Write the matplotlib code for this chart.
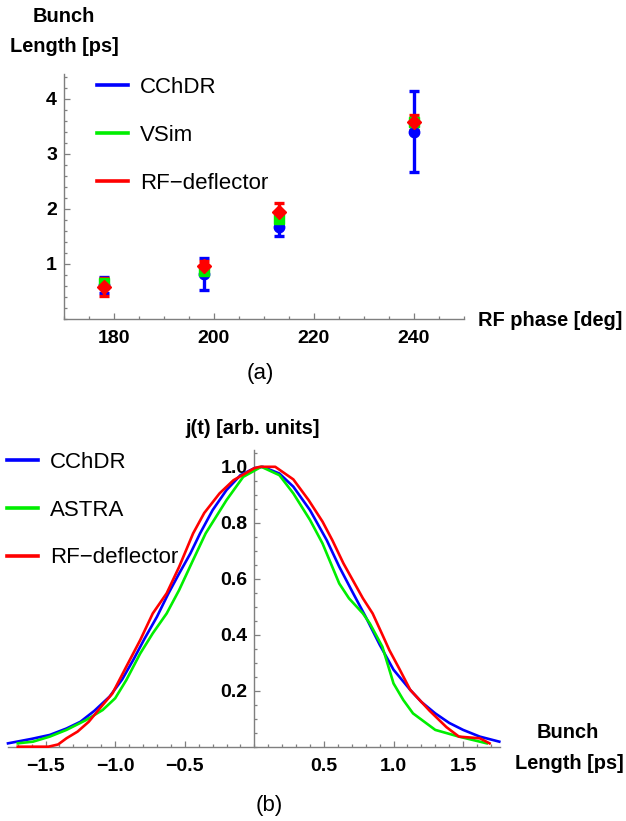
import matplotlib
matplotlib.use("Agg")
import matplotlib.pyplot as plt
from matplotlib.ticker import MultipleLocator, FixedLocator

plt.rcParams["font.family"] = ["Liberation Sans", "DejaVu Sans"]
plt.rcParams["axes.unicode_minus"] = True

W, H = 626, 821
BLUE, GREEN, RED = "#0000ff", "#00ee00", "#ff0000"
AXIS_GRAY = "#7f7f7f"

# (a) bunch length vs RF phase
phase = [178, 198, 213, 240]
cchdr_len = [0.62, 0.82, 1.68, 3.40]
cchdr_err = [0.15, 0.29, 0.18, 0.735]
vsim_len = [0.65, 0.87, 1.81, 3.58]
vsim_err = [0.08, 0.05, 0.05, 0.05]
rfd_len = [0.58, 0.97, 1.94, 3.57]
rfd_err = [0.17, 0.08, 0.17, 0.14]

# (b) longitudinal current profiles j(t)
cchdr_t = [-1.77, -1.6, -1.47, -1.35, -1.25, -1.15, -1.04, -0.95, -0.87, -0.79, -0.70, -0.62,
           -0.54, -0.46, -0.39, -0.30, -0.20, -0.10, 0.0, 0.06, 0.18, 0.28, 0.40, 0.52, 0.61,
           0.71, 0.80, 0.90, 1.00, 1.12, 1.20, 1.30, 1.40, 1.50, 1.62, 1.76]
cchdr_j = [0.012, 0.028, 0.042, 0.065, 0.089, 0.128, 0.179, 0.24, 0.31, 0.385, 0.464, 0.545,
           0.619, 0.69, 0.762, 0.845, 0.917, 0.97, 0.995, 1.0, 0.976, 0.929, 0.845, 0.738, 0.643,
           0.548, 0.464, 0.365, 0.275, 0.203, 0.16, 0.119, 0.085, 0.06, 0.036, 0.018]
astra_t = [-1.70, -1.59, -1.47, -1.35, -1.21, -1.09, -1.00, -0.92, -0.82, -0.73, -0.63, -0.54,
           -0.44, -0.35, -0.20, -0.08, 0.05, 0.18, 0.28, 0.40, 0.49, 0.61, 0.68, 0.78, 0.83,
           0.92, 1.00, 1.07, 1.14, 1.30, 1.47, 1.67]
astra_j = [0.012, 0.018, 0.036, 0.06, 0.095, 0.131, 0.173, 0.238, 0.333, 0.405, 0.476, 0.56,
           0.667, 0.762, 0.881, 0.964, 1.0, 0.97, 0.905, 0.81, 0.726, 0.583, 0.53, 0.476, 0.44,
           0.357, 0.226, 0.167, 0.119, 0.06, 0.036, 0.012]
rfd_t = [-1.70, -1.48, -1.41, -1.35, -1.27, -1.19, -1.11, -1.02, -0.92, -0.82, -0.73, -0.63,
         -0.54, -0.44, -0.36, -0.25, -0.15, 0.0, 0.04, 0.15, 0.28, 0.39, 0.49, 0.56, 0.64, 0.78,
         0.85, 0.92, 0.97, 1.04, 1.12, 1.26, 1.38, 1.47, 1.62, 1.69]
rfd_j = [0.0, 0.0, 0.008, 0.03, 0.054, 0.089, 0.137, 0.19, 0.286, 0.381, 0.476, 0.548,
         0.643, 0.762, 0.835, 0.905, 0.952, 0.995, 1.0, 1.0, 0.955, 0.881, 0.804, 0.738, 0.655,
         0.53, 0.476, 0.4, 0.345, 0.28, 0.203, 0.128, 0.07, 0.036, 0.03, 0.012]


def px_axes(fig, x0, y0, x1, y1):
    # pixel box (left, top, right, bottom) -> figure fraction axes
    return fig.add_axes([x0 / W, 1 - y1 / H, (x1 - x0) / W, (y1 - y0) / H])


def ftext(fig, x, y, s, **kw):
    fig.text(x / W, 1 - y / H, s, **kw)


def style_axes(ax):
    for side in ["top", "right"]:
        ax.spines[side].set_visible(False)
    for side in ["left", "bottom"]:
        ax.spines[side].set_color(AXIS_GRAY)
        ax.spines[side].set_linewidth(1.0)
    ax.tick_params(which="both", direction="in", color=AXIS_GRAY, width=0.9,
                   labelsize=14)
    ax.tick_params(which="major", length=4.0)
    ax.tick_params(which="minor", length=2.2)
    for lab in ax.get_xticklabels() + ax.get_yticklabels():
        lab.set_fontweight("bold")
    ax.patch.set_alpha(0)


fig = plt.figure(figsize=(W / 100, H / 100), dpi=100)
handles = [plt.Line2D([], [], color=c, lw=2.6) for c in (BLUE, GREEN, RED)]
leg_kw = dict(loc="upper left", frameon=False, fontsize=16, handlelength=1.4,
              handletextpad=0.54, borderaxespad=0, borderpad=0)

# ---- panel (a)
ax1 = px_axes(fig, 64, 74, 464, 319)
ax1.set_xlim(170, 250)
ax1.set_ylim(0, 4.45)
ax1.xaxis.set_major_locator(FixedLocator([180, 200, 220, 240]))
ax1.xaxis.set_minor_locator(MultipleLocator(5))
ax1.yaxis.set_major_locator(FixedLocator([1, 2, 3, 4]))
ax1.yaxis.set_minor_locator(MultipleLocator(0.2))
ax1.tick_params(axis="x", pad=8)
ax1.tick_params(axis="y", pad=5)

eb = dict(elinewidth=2.4, capsize=3.5, capthick=2.4, markersize=7.5, linestyle="none")
ax1.errorbar(phase, cchdr_len, yerr=cchdr_err, color=BLUE, marker="o", label="CChDR", **eb)
ax1.errorbar(phase, vsim_len, yerr=vsim_err, color=GREEN, marker="s", label="VSim", **eb)
ax1.errorbar(phase, rfd_len, yerr=rfd_err, color=RED, marker="D", label="RF\u2212deflector", **eb)
style_axes(ax1)

fig.legend(handles, ["CChDR", "VSim", "RF\u2212deflector"],
           bbox_to_anchor=(97 / W, 1 - 77 / H), labelspacing=1.22, **leg_kw)

ftext(fig, 64, 16, "Bunch", ha="center", va="center", fontsize=14.4, fontweight="bold")
ftext(fig, 64, 47, "Length [ps]", ha="center", va="center", fontsize=14.4, fontweight="bold")
ftext(fig, 478, 320, "RF phase [deg]", ha="left", va="center", fontsize=14.4, fontweight="bold")
ftext(fig, 260, 373, "(a)", ha="center", va="center", fontsize=16)

# ---- panel (b)
ax2 = px_axes(fig, 8, 450, 500, 746.7)
ax2.set_xlim(-1.77, 1.765)
ax2.set_ylim(0, 1.06)
ax2.spines["left"].set_position(("data", 0))
ax2.xaxis.set_major_locator(FixedLocator([-1.5, -1.0, -0.5, 0.5, 1.0, 1.5]))
ax2.xaxis.set_minor_locator(MultipleLocator(0.1))
ax2.yaxis.set_major_locator(FixedLocator([0.2, 0.4, 0.6, 0.8, 1.0]))
ax2.yaxis.set_minor_locator(MultipleLocator(0.05))
ax2.xaxis.set_major_formatter(plt.FuncFormatter(lambda v, p: f"{v:.1f}".replace("-", "\u2212")))
ax2.yaxis.set_major_formatter(plt.FuncFormatter(lambda v, p: f"{v:.1f}"))
ax2.tick_params(axis="x", pad=8)
ax2.tick_params(axis="y", pad=5)

ax2.plot(cchdr_t, cchdr_j, color=BLUE, lw=1.9, label="CChDR", clip_on=False, zorder=3)
ax2.plot(astra_t, astra_j, color=GREEN, lw=1.9, label="ASTRA", clip_on=False, zorder=3)
ax2.plot(rfd_t, rfd_j, color=RED, lw=1.9, label="RF\u2212deflector", clip_on=False, zorder=3)
style_axes(ax2)

fig.legend(handles, ["CChDR", "ASTRA", "RF\u2212deflector"],
           bbox_to_anchor=(7 / W, 1 - 452 / H), labelspacing=1.2, **leg_kw)

ftext(fig, 253, 428, "j(t) [arb. units]", ha="center", va="center", fontsize=14.4,
      fontweight="bold")
ftext(fig, 568, 732, "Bunch", ha="center", va="center", fontsize=14.4, fontweight="bold")
ftext(fig, 569, 763, "Length [ps]", ha="center", va="center", fontsize=14.4, fontweight="bold")
ftext(fig, 269, 805, "(b)", ha="center", va="center", fontsize=16)

fig.savefig("out.png", dpi=100)
